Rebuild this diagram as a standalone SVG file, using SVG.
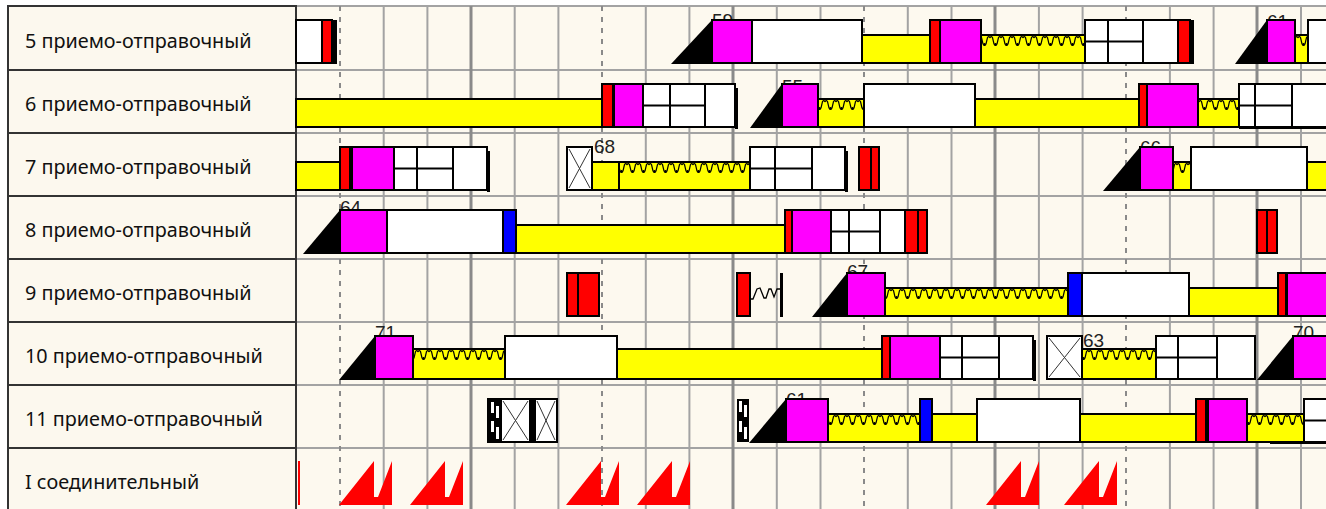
<svg xmlns="http://www.w3.org/2000/svg" width="1326" height="509" viewBox="0 0 1326 509">
<style>
.lbl{font-family:"Noto Sans","DejaVu Sans",sans-serif;font-size:19.8px;fill:#111}
.num{font-family:"Liberation Sans",Arial,sans-serif;font-size:19px;fill:#222}
.m{fill:#ff00ff;stroke:#000;stroke-width:2}
.w{fill:#fff;stroke:#000;stroke-width:2}
.y{fill:#ffff00;stroke:#000;stroke-width:2}
.r{fill:#ff0000;stroke:#000;stroke-width:2}
.b{fill:#0000ff;stroke:#000;stroke-width:2}
.k{fill:#000}
.ln{stroke:#000;stroke-width:2;fill:none}
.x{stroke:#333;stroke-width:1;fill:none}
.gt{stroke:#a3a3a3;stroke-width:2}
.gk{stroke:#8a8a8a;stroke-width:3}
.gd{stroke:#8a8a8a;stroke-width:2;stroke-dasharray:5 6}
.gh{stroke:#a3a3a3;stroke-width:2}
.wv{fill:url(#wave)}
.saw{fill:#ff0000}
</style>
<defs>
<pattern id="wave" patternUnits="userSpaceOnUse" x="0" y="0" width="11" height="14">
<path d="M0,3 Q1,0.5 2.5,2.5 L4,9 Q5.5,12 7,9 L8.5,2.5 Q10,0.5 11,3" fill="none" stroke="#000" stroke-width="1.2"/>
<circle cx="5.5" cy="9.5" r="1.4" fill="#000"/>
</pattern>
<path id="saw" d="M0,44 L35,0 L35,36 L39,36 L53,0 L53,44 Z"/>
</defs>
<rect x="0" y="0" width="1326" height="509" fill="#ffffff"/>
<rect x="296" y="6" width="1030" height="503" fill="#fdf9ef"/>
<g id="grid">
<line class="gh" x1="296" y1="6" x2="1326" y2="6"/>
<line class="gh" x1="296" y1="70" x2="1326" y2="70"/>
<line class="gh" x1="296" y1="133" x2="1326" y2="133"/>
<line class="gh" x1="296" y1="196" x2="1326" y2="196"/>
<line class="gh" x1="296" y1="259" x2="1326" y2="259"/>
<line class="gh" x1="296" y1="322" x2="1326" y2="322"/>
<line class="gh" x1="296" y1="385" x2="1326" y2="385"/>
<line class="gh" x1="296" y1="448" x2="1326" y2="448"/>
<line class="gd" x1="340" y1="6" x2="340" y2="509"/>
<line class="gt" x1="383.7" y1="6" x2="383.7" y2="509"/>
<line class="gt" x1="427.4" y1="6" x2="427.4" y2="509"/>
<line class="gk" x1="471" y1="6" x2="471" y2="509"/>
<line class="gt" x1="514.7" y1="6" x2="514.7" y2="509"/>
<line class="gt" x1="558.4" y1="6" x2="558.4" y2="509"/>
<line class="gd" x1="602" y1="6" x2="602" y2="509"/>
<line class="gt" x1="645.8" y1="6" x2="645.8" y2="509"/>
<line class="gt" x1="689.4" y1="6" x2="689.4" y2="509"/>
<line class="gk" x1="733" y1="6" x2="733" y2="509"/>
<line class="gt" x1="776.8" y1="6" x2="776.8" y2="509"/>
<line class="gt" x1="820.5" y1="6" x2="820.5" y2="509"/>
<line class="gd" x1="864" y1="6" x2="864" y2="509"/>
<line class="gt" x1="907.8" y1="6" x2="907.8" y2="509"/>
<line class="gt" x1="951.5" y1="6" x2="951.5" y2="509"/>
<line class="gk" x1="995" y1="6" x2="995" y2="509"/>
<line class="gt" x1="1038.9" y1="6" x2="1038.9" y2="509"/>
<line class="gt" x1="1082.6" y1="6" x2="1082.6" y2="509"/>
<line class="gd" x1="1126" y1="6" x2="1126" y2="509"/>
<line class="gt" x1="1169.9" y1="6" x2="1169.9" y2="509"/>
<line class="gt" x1="1213.6" y1="6" x2="1213.6" y2="509"/>
<line class="gk" x1="1257" y1="6" x2="1257" y2="509"/>
<line class="gt" x1="1301" y1="6" x2="1301" y2="509"/>
</g>
<g id="labels">
<rect x="8" y="6" width="288" height="505" fill="#fcf8ee" stroke="#333" stroke-width="2"/>
<line x1="8" y1="70" x2="296" y2="70" stroke="#333" stroke-width="2"/>
<line x1="8" y1="133" x2="296" y2="133" stroke="#333" stroke-width="2"/>
<line x1="8" y1="196" x2="296" y2="196" stroke="#333" stroke-width="2"/>
<line x1="8" y1="259" x2="296" y2="259" stroke="#333" stroke-width="2"/>
<line x1="8" y1="322" x2="296" y2="322" stroke="#333" stroke-width="2"/>
<line x1="8" y1="385" x2="296" y2="385" stroke="#333" stroke-width="2"/>
<line x1="8" y1="448" x2="296" y2="448" stroke="#333" stroke-width="2"/>
<text class="lbl" x="25" y="48">5 приемо-отправочный</text>
<text class="lbl" x="25" y="111">6 приемо-отправочный</text>
<text class="lbl" x="25" y="174">7 приемо-отправочный</text>
<text class="lbl" x="25" y="237">8 приемо-отправочный</text>
<text class="lbl" x="25" y="300">9 приемо-отправочный</text>
<text class="lbl" x="25" y="363">10 приемо-отправочный</text>
<text class="lbl" x="25" y="426">11 приемо-отправочный</text>
<text class="lbl" x="25" y="489">I соединительный</text>
</g>
<g id="connectors"></g>
<g id="row5">
<rect class="w" x="296" y="20" width="26" height="43"/>
<rect class="r" x="322" y="20" width="10" height="43"/>
<rect class="k" x="332" y="20" width="5" height="44"/>
<polygon class="k" points="671,64 712,20 712,64"/>
<text class="num" x="712" y="27">59</text>
<rect class="m" x="712" y="20" width="40" height="43"/>
<rect class="w" x="752" y="20" width="110" height="43"/>
<rect class="y" x="862" y="35" width="68" height="28"/>
<rect class="r" x="930" y="20" width="10" height="43"/>
<rect class="m" x="940" y="20" width="41" height="43"/>
<rect class="y" x="981" y="35" width="104" height="28"/>
<rect class="wv" x="982" y="0" width="102" height="14" transform="translate(0,35)"/>
<rect class="w" x="1085" y="20" width="93" height="43"/>
<path class="ln" d="M1108,20 V63 M1143,20 V63 M1085,41.5 H1143"/>
<rect class="r" x="1178" y="20" width="12" height="43"/>
<rect class="k" x="1190" y="20" width="4" height="44"/>
<polygon class="k" points="1235,64 1267,20 1267,64"/>
<text class="num" x="1267" y="28">61</text>
<rect class="m" x="1267" y="20" width="28" height="43"/>
<rect class="y" x="1295" y="35" width="13" height="28"/>
<rect class="wv" x="1296" y="0" width="11" height="14" transform="translate(0,35)"/>
<rect class="w" x="1308" y="20" width="24" height="43"/>
</g>
<g id="row6">
<rect class="y" x="296" y="99" width="306" height="28"/>
<rect class="r" x="602" y="84" width="11" height="43"/>
<rect class="m" x="614" y="84" width="29" height="43"/>
<rect class="w" x="643" y="84" width="92" height="43"/>
<path class="ln" d="M670,84 V127 M705,84 V127 M643,105.5 H705"/>
<rect class="k" x="735" y="88" width="3" height="41"/>
<polygon class="k" points="750,128 782,84 782,128"/>
<text class="num" x="782" y="93">55</text>
<rect class="m" x="782" y="84" width="36" height="43"/>
<rect class="y" x="818" y="99" width="46" height="28"/>
<rect class="wv" x="819" y="0" width="44" height="14" transform="translate(0,99)"/>
<rect class="w" x="864" y="84" width="111" height="43"/>
<rect class="y" x="975" y="99" width="164" height="28"/>
<rect class="r" x="1139" y="84" width="8" height="43"/>
<rect class="m" x="1147" y="84" width="51" height="43"/>
<rect class="y" x="1198" y="99" width="41" height="28"/>
<rect class="wv" x="1199" y="0" width="39" height="14" transform="translate(0,99)"/>
<rect class="w" x="1239" y="84" width="93" height="43"/>
<path class="ln" d="M1255,84 V127 M1292,84 V127 M1239,105.5 H1292"/>
<rect class="k" x="1239" y="126" width="87" height="3"/>
</g>
<g id="row7">
<rect class="y" x="296" y="162" width="44" height="28"/>
<rect class="r" x="340" y="147" width="10" height="43"/>
<rect class="m" x="352" y="147" width="42" height="43"/>
<rect class="w" x="394" y="147" width="93" height="43"/>
<path class="ln" d="M417,147 V190 M453,147 V190 M394,168.5 H453"/>
<rect class="k" x="487" y="151" width="3" height="41"/>
<rect class="w" x="567" y="147" width="25" height="43"/>
<path class="x" d="M569,149 L590,188 M590,149 L569,188"/>
<text class="num" x="594" y="153">68</text>
<rect class="y" x="592" y="162" width="27" height="28"/>
<rect class="y" x="619" y="162" width="131" height="28"/>
<rect class="wv" x="620" y="0" width="129" height="14" transform="translate(0,162)"/>
<rect class="w" x="750" y="147" width="95" height="43"/>
<path class="ln" d="M775,147 V190 M812,147 V190 M750,168.5 H812"/>
<rect class="k" x="845" y="151" width="3" height="41"/>
<rect class="r" x="859" y="147" width="12" height="43"/>
<rect class="r" x="871" y="147" width="8" height="43"/>
<polygon class="k" points="1103,191 1140,147 1140,191"/>
<text class="num" x="1140" y="154">66</text>
<rect class="m" x="1140" y="147" width="33" height="43"/>
<rect class="y" x="1173" y="162" width="18" height="28"/>
<rect class="wv" x="1174" y="0" width="16" height="14" transform="translate(0,162)"/>
<rect class="w" x="1191" y="147" width="116" height="43"/>
<rect class="y" x="1307" y="162" width="25" height="28"/>
</g>
<g id="row8">
<polygon class="k" points="303,254 340,210 340,254"/>
<text class="num" x="340" y="214">64</text>
<rect class="m" x="340" y="210" width="47" height="43"/>
<rect class="w" x="387" y="210" width="116" height="43"/>
<rect class="b" x="503" y="210" width="13" height="43"/>
<rect class="y" x="516" y="225" width="269" height="28"/>
<rect class="r" x="785" y="210" width="7" height="43"/>
<rect class="m" x="792" y="210" width="39" height="43"/>
<rect class="w" x="831" y="210" width="74" height="43"/>
<path class="ln" d="M849,210 V253 M880,210 V253 M831,231.5 H880"/>
<rect class="r" x="905" y="210" width="13" height="43"/>
<rect class="r" x="918" y="210" width="9" height="43"/>
<rect class="r" x="1257" y="210" width="10" height="43"/>
<rect class="r" x="1267" y="210" width="10" height="43"/>
</g>
<g id="row9">
<rect class="r" x="567" y="273" width="11" height="43"/>
<rect class="r" x="578" y="273" width="21" height="43"/>
<rect class="r" x="737" y="273" width="13" height="43"/>
<path d="M750,299 L753,299 L757,289 L760,288 L764,298 L766,298 L769,289 L771,289 L774,297 L777,289 L781,289" fill="none" stroke="#000" stroke-width="1.3"/>
<rect class="k" x="780" y="273" width="3" height="44"/>
<polygon class="k" points="812,317 847,273 847,317"/>
<text class="num" x="847" y="278">67</text>
<rect class="m" x="847" y="273" width="38" height="43"/>
<rect class="y" x="885" y="288" width="183" height="28"/>
<rect class="wv" x="886" y="0" width="181" height="14" transform="translate(0,288)"/>
<rect class="b" x="1068" y="273" width="14" height="43"/>
<rect class="w" x="1082" y="273" width="107" height="43"/>
<rect class="y" x="1189" y="288" width="89" height="28"/>
<rect class="r" x="1278" y="273" width="8" height="43"/>
<rect class="m" x="1287" y="273" width="45" height="43"/>
</g>
<g id="row10">
<polygon class="k" points="339,380 375,336 375,380"/>
<text class="num" x="375" y="339">71</text>
<rect class="m" x="375" y="336" width="38" height="43"/>
<rect class="y" x="413" y="349" width="92" height="30"/>
<rect class="wv" x="414" y="0" width="90" height="14" transform="translate(0,349)"/>
<rect class="w" x="505" y="336" width="112" height="43"/>
<rect class="y" x="617" y="349" width="265" height="30"/>
<rect class="r" x="882" y="336" width="8" height="43"/>
<rect class="m" x="890" y="336" width="50" height="43"/>
<rect class="w" x="940" y="336" width="93" height="43"/>
<path class="ln" d="M962,336 V379 M999,336 V379 M940,357.5 H999"/>
<rect class="k" x="1033" y="340" width="3" height="41"/>
<rect class="w" x="1047" y="336" width="35" height="43"/>
<path class="x" d="M1049,338 L1080,377 M1080,338 L1049,377"/>
<text class="num" x="1083" y="347">63</text>
<rect class="y" x="1082" y="349" width="74" height="30"/>
<rect class="wv" x="1083" y="0" width="72" height="14" transform="translate(0,349)"/>
<rect class="w" x="1156" y="336" width="99" height="43"/>
<path class="ln" d="M1178,336 V379 M1217,336 V379 M1156,357.5 H1217"/>
<polygon class="k" points="1257,380 1293,336 1293,380"/>
<text class="num" x="1293" y="339">70</text>
<rect class="m" x="1293" y="336" width="39" height="43"/>
</g>
<g id="row11">
<rect class="w" x="488" y="399" width="45" height="43"/>
<rect class="k" x="489" y="400" width="13" height="41"/>
<rect x="491" y="402" width="3" height="11" fill="#fff"/>
<rect x="496" y="406" width="3" height="12" fill="#fff"/>
<rect x="491" y="421" width="3" height="11" fill="#fff"/>
<rect x="496" y="427" width="3" height="12" fill="#fff"/>
<rect class="k" x="529" y="400" width="4" height="41"/>
<path class="x" d="M503,401 L528,440 M528,401 L503,440"/>
<rect class="w" x="535" y="399" width="22" height="43"/>
<path class="x" d="M537,401 L555,440 M555,401 L537,440"/>
<rect class="k" x="737" y="399" width="12" height="43"/>
<rect x="739" y="401" width="3" height="11" fill="#fff"/>
<rect x="744" y="405" width="3" height="12" fill="#fff"/>
<rect x="739" y="421" width="3" height="11" fill="#fff"/>
<rect x="744" y="427" width="3" height="12" fill="#fff"/>
<polygon class="k" points="749,443 786,399 786,443"/>
<text class="num" x="786" y="406">61</text>
<rect class="m" x="786" y="399" width="42" height="43"/>
<rect class="y" x="828" y="414" width="92" height="28"/>
<rect class="wv" x="829" y="0" width="90" height="14" transform="translate(0,414)"/>
<rect class="b" x="920" y="399" width="12" height="43"/>
<rect class="y" x="932" y="414" width="45" height="28"/>
<rect class="w" x="977" y="399" width="103" height="43"/>
<rect class="y" x="1080" y="414" width="116" height="28"/>
<rect class="r" x="1196" y="399" width="10" height="43"/>
<rect class="m" x="1208" y="399" width="39" height="43"/>
<rect class="y" x="1247" y="414" width="57" height="28"/>
<rect class="wv" x="1248" y="0" width="55" height="14" transform="translate(0,414)"/>
<rect class="w" x="1304" y="399" width="28" height="43"/>
<path class="ln" d="M1304,420.5 H1326"/>
<rect class="k" x="1270" y="441" width="56" height="3"/>
</g>
<g id="rowI">
<rect x="298" y="461" width="2" height="44" fill="#ff0000"/>
<use class="saw" href="#saw" x="339" y="461"/>
<use class="saw" href="#saw" x="410" y="461"/>
<use class="saw" href="#saw" x="566" y="461"/>
<use class="saw" href="#saw" x="637" y="461"/>
<use class="saw" href="#saw" x="986" y="461"/>
<use class="saw" href="#saw" x="1064" y="461"/>
</g>
</svg>
